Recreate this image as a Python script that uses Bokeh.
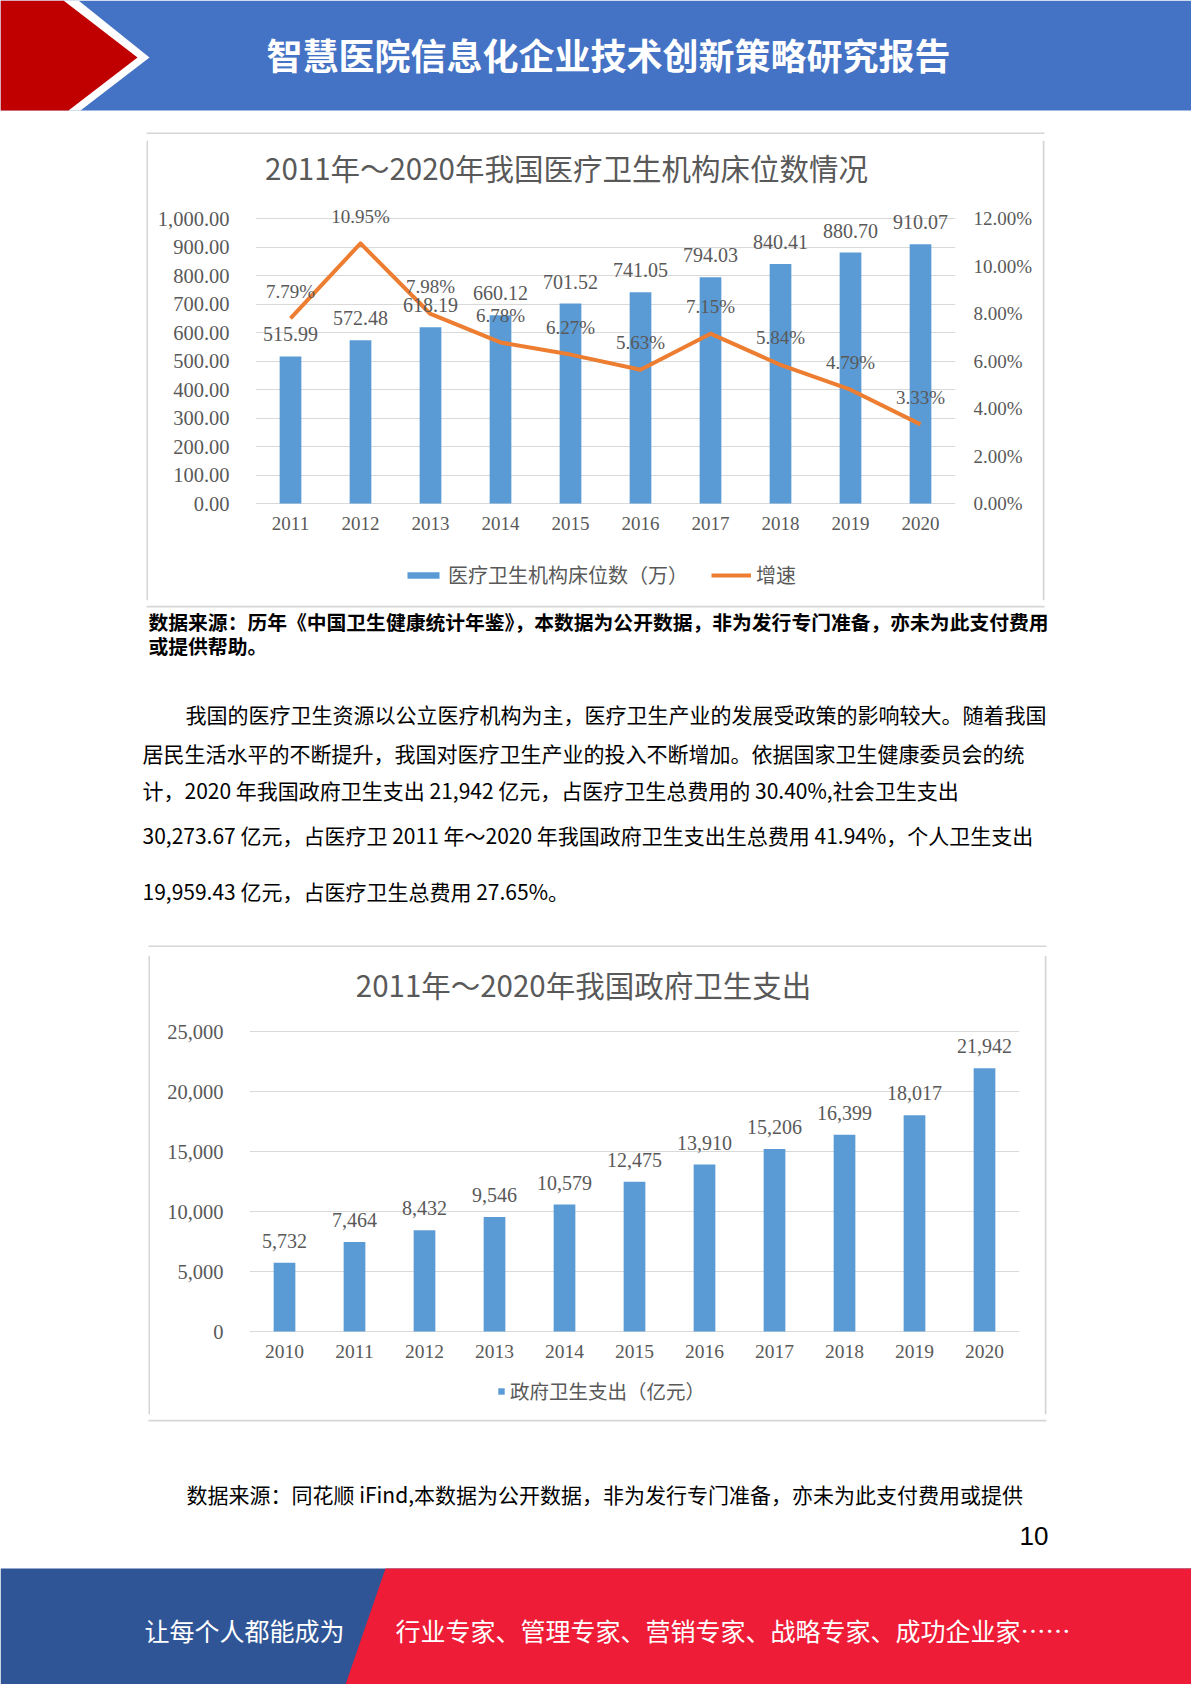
from bokeh.plotting import figure
from bokeh.models import (ColumnDataSource, Range1d, FactorRange, LinearAxis,
                          CategoricalAxis, FixedTicker, NumeralTickFormatter, PrintfTickFormatter,
                          Grid, LabelSet, Label, Legend, LegendItem)
from bokeh.layouts import column, row
from bokeh.core.properties import value
from bokeh.embed import file_html
from bokeh.resources import INLINE

# ---------------- data ----------------
years1 = ["2011", "2012", "2013", "2014", "2015", "2016", "2017", "2018", "2019", "2020"]
beds = [515.99, 572.48, 618.19, 660.12, 701.52, 741.05, 794.03, 840.41, 880.70, 910.07]
growth = [7.79, 10.95, 7.98, 6.78, 6.27, 5.63, 7.15, 5.84, 4.79, 3.33]
left1_ticks = [0, 100, 200, 300, 400, 500, 600, 700, 800, 900, 1000]
right1_ticks = [0, 2, 4, 6, 8, 10, 12]

years2 = ["2010", "2011", "2012", "2013", "2014", "2015", "2016", "2017", "2018", "2019", "2020"]
gov_spend = [5732, 7464, 8432, 9546, 10579, 12475, 13910, 15206, 16399, 18017, 21942]
left2_ticks = [0, 5000, 10000, 15000, 20000, 25000]

header_title = "智慧医院信息化企业技术创新策略研究报告"
chart1_title = "2011年～2020年我国医疗卫生机构床位数情况"
chart2_title = "2011年～2020年我国政府卫生支出"
bar1_name = "医疗卫生机构床位数（万）"
line1_name = "增速"
bar2_name = "政府卫生支出（亿元）"
note1 = ["数据来源：历年《中国卫生健康统计年鉴》，本数据为公开数据，非为发行专门准备，亦未为此支付费用",
         "或提供帮助。"]
para = ["我国的医疗卫生资源以公立医疗机构为主，医疗卫生产业的发展受政策的影响较大。随着我国",
        "居民生活水平的不断提升，我国对医疗卫生产业的投入不断增加。依据国家卫生健康委员会的统",
        "计，2020 年我国政府卫生支出 21,942 亿元，占医疗卫生总费用的 30.40%,社会卫生支出",
        "30,273.67 亿元，占医疗卫 2011 年～2020 年我国政府卫生支出生总费用 41.94%，个人卫生支出",
        "19,959.43 亿元，占医疗卫生总费用 27.65%。"]
note2 = "数据来源：同花顺 iFind,本数据为公开数据，非为发行专门准备，亦未为此支付费用或提供"
page_no = "10"
footer_left = "让每个人都能成为"
footer_right = "行业专家、管理专家、营销专家、战略专家、成功企业家……"

# ---------------- style ----------------
CN = "Noto Sans CJK SC"
SERIF = "Liberation Serif"
GRAY = "#595959"
BLUE_BAR = "#5B9BD5"
ORANGE = "#ED7D31"
GRID = "#D9D9D9"
EDGE = "#D6D6D6"
PAGE_W = 1191

BOX1 = (148, 1042, 134, 605)    # chart 1 outline (left, right, top, bottom) in page px
BOX2 = (150, 1044, 947, 1419)   # chart 2 outline


def strip_fig(x0, x1, top, bottom):
    """Decoration figure whose data coordinates are page pixels."""
    p = figure(width=x1 - x0, height=bottom - top, output_backend="svg", toolbar_location=None,
               tools="", x_axis_type=None, y_axis_type=None,
               x_range=Range1d(x0, x1), y_range=Range1d(bottom, top))
    p.min_border_left = p.min_border_right = p.min_border_top = p.min_border_bottom = 0
    p.outline_line_color = None
    p.background_fill_color = "white"
    p.border_fill_color = "white"
    return p


def hline(p, x0, x1, y):
    p.line([x0, x1], [y, y], line_color=EDGE, line_width=2)


def vline(p, x, y0, y1):
    p.line([x, x], [y0, y1], line_color=EDGE, line_width=2)


def txt(p, x, y, s, size, color="#000000", font=CN, align="left", bold=False, units="data"):
    p.add_layout(Label(x=x, y=y, x_units=units, y_units=units, text=s, text_font=font,
                       text_font_size=size, text_color=color, text_align=align,
                       text_baseline="middle", text_font_style="bold" if bold else "normal"))


def style_axis(ax, size, standoff):
    ax.axis_line_color = None
    ax.major_tick_line_color = None
    ax.minor_tick_line_color = None
    ax.major_tick_out = 0
    ax.major_tick_in = 0
    ax.minor_tick_out = 0
    ax.major_label_text_font = SERIF
    ax.major_label_text_font_size = size
    ax.major_label_text_color = GRAY
    ax.major_label_standoff = standoff


def chart_fig(factors, box, plot_x, ft, fb, zero_y, full_y, full_val):
    """Chart figure sized as the outlined box; frame spans plot_x horizontally and
    ft..fb (page px) vertically; value 0 sits at zero_y and full_val at full_y."""
    bl, br, bt_, bb = box
    px_per = (zero_y - full_y) / full_val
    p = figure(width=br - bl, height=bb - bt_, output_backend="svg", toolbar_location=None,
               tools="", x_axis_type=None, y_axis_type=None,
               x_range=FactorRange(factors=factors),
               y_range=Range1d(-(fb - zero_y) / px_per, (zero_y - ft) / px_per),
               min_border_left=plot_x[0] - bl, min_border_right=br - plot_x[1],
               min_border_top=ft - bt_, min_border_bottom=bb - fb)
    p.outline_line_color = None
    p.background_fill_color = "white"
    p.border_fill_color = "white"
    return p


def side_figs(box):
    bl, br, bt_, bb = box
    left = strip_fig(0, bl, bt_, bb)
    vline(left, bl - 1, bt_, bb)
    right = strip_fig(br, PAGE_W, bt_, bb)
    vline(right, br + 1, bt_, bb)
    return left, right


# ---------------- header (page y 0..134) ----------------
hd = strip_fig(0, PAGE_W, 0, 134)
hd.patch([0, PAGE_W, PAGE_W, 0], [0, 0, 110, 110], fill_color="#4472C4", line_color=None)
hd.patch([0, 78, 149, 80, 0], [0, 0, 57, 110, 110], fill_color="white", line_color=None)
hd.patch([0, 63, 137, 68, 0], [0, 0, 57, 110, 110], fill_color="#C00000", line_color=None)
txt(hd, 608, 53, header_title, "36px", color="white", align="center", bold=True)
hline(hd, BOX1[0] - 2, BOX1[1] + 2, 133)

# ---------------- chart 1 ----------------
C1_FT, C1_FB, C1_ZERO, C1_FULL = 140, 600, 503, 218
c1 = chart_fig(years1, BOX1, (255, 955), C1_FT, C1_FB, C1_ZERO, C1_FULL, 1000)
pct_per = (C1_ZERO - C1_FULL) / 12
c1.extra_y_ranges = {"pct": Range1d(-(C1_FB - C1_ZERO) / pct_per, (C1_ZERO - C1_FT) / pct_per)}

c1.add_layout(Grid(dimension=1, ticker=FixedTicker(ticks=left1_ticks),
                   grid_line_color=GRID, grid_line_width=1))
ax_l = LinearAxis(ticker=FixedTicker(ticks=left1_ticks),
                  formatter=NumeralTickFormatter(format="0,0.00"))
style_axis(ax_l, "20.5px", 26)
c1.add_layout(ax_l, "left")
ax_r = LinearAxis(y_range_name="pct", ticker=FixedTicker(ticks=right1_ticks),
                  formatter=PrintfTickFormatter(format="%.2f%%"))
style_axis(ax_r, "19px", 18)
c1.add_layout(ax_r, "right")
ax_b = CategoricalAxis()
style_axis(ax_b, "19px", 516 - C1_FB)
c1.add_layout(ax_b, "below")

src1 = ColumnDataSource(dict(year=years1, beds=beds, growth=growth,
                             beds_lbl=[f"{v:.2f}" for v in beds],
                             growth_lbl=[f"{v:.2f}%" for v in growth]))
bar_r = c1.vbar(x="year", top="beds", width=0.31, source=src1,
                fill_color=BLUE_BAR, line_color=None)
line_r = c1.line(x="year", y="growth", source=src1, y_range_name="pct",
                 line_color=ORANGE, line_width=4, line_join="round")
c1.add_layout(LabelSet(x="year", y="beds", text="beds_lbl", source=src1,
                       text_align="center", text_baseline="middle",
                       y_offset=22, text_font=value(SERIF), text_font_size="20px",
                       text_color=GRAY))
c1.add_layout(LabelSet(x="year", y="growth", text="growth_lbl", source=src1,
                       y_range_name="pct", text_align="center", text_baseline="middle",
                       y_offset=27, text_font=value(SERIF), text_font_size="19px",
                       text_color=GRAY))
txt(c1, 566 - 255, C1_FB - 166, chart1_title, "29.5px", color=GRAY, align="center",
    units="screen")
leg1 = Legend(items=[LegendItem(label=bar1_name, renderers=[bar_r]),
                     LegendItem(label=line1_name, renderers=[line_r])],
              location=(403 - 255, C1_FB - 589), orientation="horizontal",
              glyph_width=40, glyph_height=8, label_standoff=5, spacing=23, padding=0, margin=0,
              border_line_color=None, background_fill_alpha=0, label_text_font=CN,
              label_text_font_size="20px", label_text_color=GRAY, label_height=20)
c1.add_layout(leg1)
c1_l, c1_r = side_figs(BOX1)

# ---------------- text strip (page y 605..947) ----------------
tx = strip_fig(0, PAGE_W, 605, 947)
hline(tx, BOX1[0] - 2, BOX1[1] + 2, 606)
hline(tx, BOX2[0] - 2, BOX2[1] + 2, 946)
txt(tx, 148, 621, note1[0], "19.8px", bold=True)
txt(tx, 148, 645, note1[1], "19.8px", bold=True)
para_x = [185, 142, 142, 142, 142]
para_y = [713, 752, 789, 834, 890]
for s, x, y in zip(para, para_x, para_y):
    txt(tx, x, y, s, "21px")

# ---------------- chart 2 ----------------
C2_FT, C2_FB, C2_ZERO, C2_FULL = 955, 1414, 1331, 1031
c2 = chart_fig(years2, BOX2, (249, 1019), C2_FT, C2_FB, C2_ZERO, C2_FULL, 25000)
c2.add_layout(Grid(dimension=1, ticker=FixedTicker(ticks=left2_ticks),
                   grid_line_color=GRID, grid_line_width=1))
ax2_l = LinearAxis(ticker=FixedTicker(ticks=left2_ticks),
                   formatter=NumeralTickFormatter(format="0,0"))
style_axis(ax2_l, "20.5px", 26)
c2.add_layout(ax2_l, "left")
ax2_b = CategoricalAxis()
style_axis(ax2_b, "19.5px", 1344 - C2_FB)
c2.add_layout(ax2_b, "below")

src2 = ColumnDataSource(dict(year=years2, spend=gov_spend,
                             lbl=[f"{v:,}" for v in gov_spend]))
bar2_r = c2.vbar(x="year", top="spend", width=0.31, source=src2,
                 fill_color=BLUE_BAR, line_color=None)
c2.add_layout(LabelSet(x="year", y="spend", text="lbl", source=src2,
                       text_align="center", text_baseline="middle",
                       y_offset=22, text_font=value(SERIF), text_font_size="20px",
                       text_color=GRAY))
txt(c2, 583 - 249, C2_FB - 983, chart2_title, "29.5px", color=GRAY, align="center",
    units="screen")
leg2 = Legend(items=[LegendItem(label=bar2_name, renderers=[bar2_r])],
              location=(497 - 249, C2_FB - 1405), orientation="horizontal",
              glyph_width=8, glyph_height=8, label_standoff=5, spacing=40, padding=0, margin=0,
              border_line_color=None, background_fill_alpha=0, label_text_font=CN,
              label_text_font_size="19.5px", label_text_color=GRAY, label_height=20)
c2.add_layout(leg2)
c2_l, c2_r = side_figs(BOX2)

# ---------------- bottom strip (page y 1419..1684) ----------------
bt = strip_fig(0, PAGE_W, 1419, 1684)
hline(bt, BOX2[0] - 2, BOX2[1] + 2, 1420)
txt(bt, 186, 1493, note2, "21px")
txt(bt, 1048, 1535, page_no, "26px", font="Liberation Sans", align="right")
bt.patch([0, PAGE_W, PAGE_W, 0], [1568, 1568, 1684, 1684], fill_color="#2F5597",
         line_color=None)
bt.patch([385, PAGE_W, PAGE_W, 345], [1568, 1568, 1684, 1684], fill_color="#EE1C37",
         line_color=None)
txt(bt, 144, 1629, footer_left, "25px", color="white")
txt(bt, 395, 1629, footer_right, "25px", color="white")

layout = column(hd,
                row(c1_l, c1, c1_r),
                tx,
                row(c2_l, c2, c2_r),
                bt)
open("out.html", "w").write(file_html(layout, INLINE))
